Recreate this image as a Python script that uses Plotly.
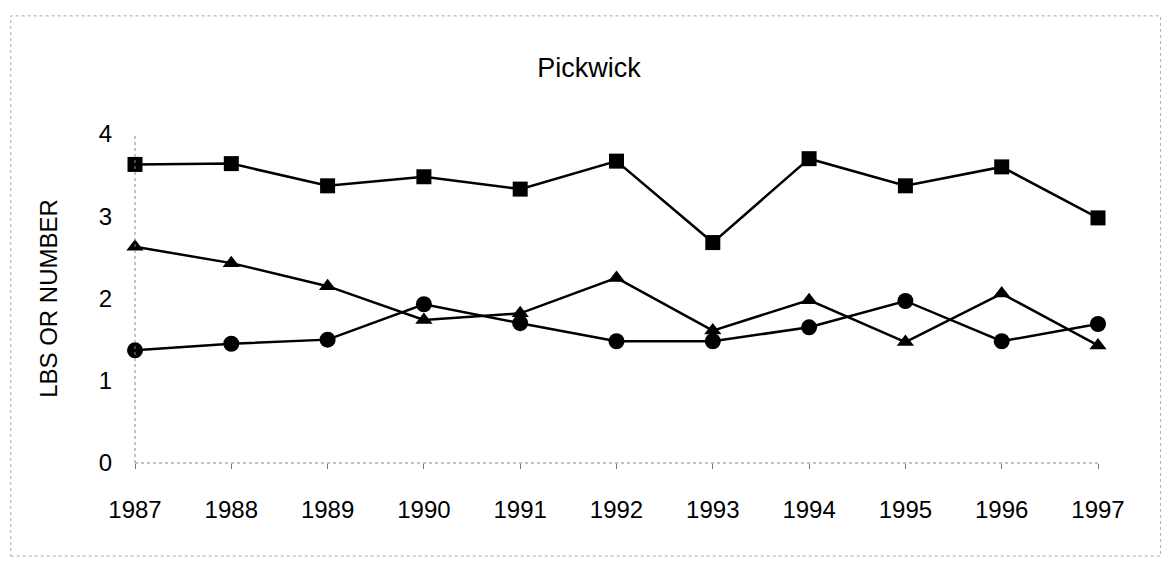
import plotly.graph_objects as go

years = [1987, 1988, 1989, 1990, 1991, 1992, 1993, 1994, 1995, 1996, 1997]
squares = [3.63, 3.64, 3.37, 3.48, 3.33, 3.67, 2.68, 3.70, 3.37, 3.60, 2.98]
triangles = [2.63, 2.43, 2.15, 1.74, 1.82, 2.25, 1.61, 1.98, 1.47, 2.06, 1.43]
circles = [1.37, 1.45, 1.50, 1.93, 1.70, 1.48, 1.48, 1.65, 1.97, 1.48, 1.69]

fig = go.Figure()

# three black series, only told apart by marker shape
for vals, sym, size in [(squares, "square", 15), (triangles, "triangle-up", 15), (circles, "circle", 16)]:
    fig.add_trace(go.Scatter(
        x=years, y=vals, mode="lines+markers",
        line=dict(color="black", width=2.5),
        marker=dict(symbol=sym, size=size, color="black"),
        cliponaxis=False, showlegend=False
    ))

# dotted axis lines (scanned look)
fig.add_shape(type="line", xref="paper", yref="paper", x0=0, x1=1, y0=0, y1=0,
              line=dict(color="#888888", width=1, dash="dot"))
fig.add_shape(type="line", xref="paper", yref="paper", x0=0, x1=0, y0=0, y1=1,
              line=dict(color="#888888", width=1, dash="dot"))

# dotted frame round the whole chart
fig.add_shape(type="rect", xref="paper", yref="paper",
              x0=-0.129, x1=1.065, y0=-0.283, y1=1.359,
              line=dict(color="#aaaaaa", width=1, dash="dot"))

fig.update_layout(
    width=1176, height=571,
    paper_bgcolor="white", plot_bgcolor="white",
    font=dict(family="Liberation Sans, Arial, sans-serif", color="black", size=24),
    title=dict(text="Pickwick", x=0.494, xanchor="center", y=0.895, yanchor="middle",
               font=dict(size=27)),
    margin=dict(l=127, r=86, t=126, b=116),
)

fig.update_xaxes(
    range=[1987, 1997], tickvals=years, ticktext=[str(y) for y in years],
    showgrid=False, zeroline=False, showline=False,
    ticks="outside", ticklen=5, tickcolor="#777777", tickwidth=1,
    ticklabelstandoff=20
)
fig.update_yaxes(
    range=[0, 4], dtick=1, showgrid=False, zeroline=False, showline=False,
    ticks="", ticklabelstandoff=22,
    title=dict(text="LBS OR NUMBER", font=dict(size=24), standoff=34)
)

fig.write_html("out.html")
